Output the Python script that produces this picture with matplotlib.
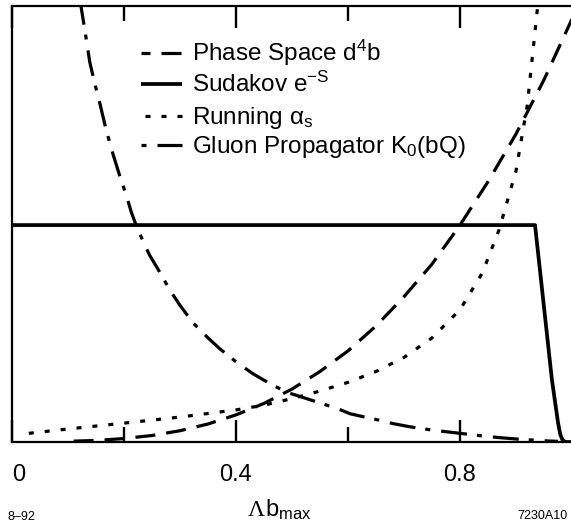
import matplotlib
matplotlib.use("Agg")
import matplotlib.pyplot as plt
from matplotlib.lines import Line2D

plt.rcParams['font.family'] = ['Liberation Sans', 'DejaVu Sans']
plt.rcParams['mathtext.fontset'] = 'custom'
plt.rcParams['mathtext.rm'] = 'Liberation Sans'
plt.rcParams['mathtext.it'] = 'Liberation Sans'
plt.rcParams['mathtext.sf'] = 'Liberation Sans'
plt.rcParams['lines.scale_dashes'] = False

# --- curves (x = Lambda*b_max, y in units of the Sudakov plateau) ---
phase_x = [0.11, 0.15, 0.20, 0.25, 0.30, 0.35, 0.40, 0.45, 0.50, 0.55,
           0.60, 0.65, 0.70, 0.75, 0.80, 0.85, 0.90, 0.95, 1.00]
phase_y = [0.004, 0.007, 0.016, 0.030, 0.052, 0.083, 0.125, 0.178, 0.244, 0.325,
           0.42, 0.535, 0.67, 0.82, 1.00, 1.20, 1.42, 1.67, 1.95]

sudakov_x = [0.0, 0.934, 0.964, 0.975, 0.979, 0.983, 0.988, 1.0]
sudakov_y = [1.0, 1.0, 0.29, 0.09, 0.035, 0.01, 0.0, 0.0]

alphas_x = [0.03, 0.10, 0.20, 0.30, 0.40, 0.45, 0.50, 0.55, 0.60, 0.65,
            0.70, 0.75, 0.80, 0.84, 0.87, 0.90, 0.92, 0.94]
alphas_y = [0.040, 0.060, 0.087, 0.115, 0.148, 0.170, 0.200, 0.235, 0.275, 0.325,
            0.39, 0.48, 0.61, 0.78, 0.98, 1.25, 1.55, 2.04]

gluon_x = [0.12, 0.125, 0.13, 0.139, 0.148, 0.157, 0.168, 0.18, 0.192, 0.205,
           0.213, 0.223, 0.235, 0.246, 0.26, 0.282, 0.30, 0.323, 0.35, 0.371,
           0.40, 0.43, 0.46, 0.49, 0.52, 0.55, 0.58, 0.604, 0.63, 0.657,
           0.68, 0.711, 0.75, 0.80, 0.84, 0.871, 0.91, 0.955, 0.975]
gluon_y = [2.06, 1.98, 1.90, 1.75, 1.65, 1.56, 1.44, 1.33, 1.23, 1.13,
           1.06, 0.99, 0.92, 0.86, 0.80, 0.70, 0.63, 0.55, 0.48, 0.43,
           0.37, 0.315, 0.27, 0.23, 0.205, 0.18, 0.155, 0.13, 0.115, 0.10,
           0.085, 0.07, 0.055, 0.04, 0.028, 0.02, 0.012, 0.005, 0.003]

labels = ["Phase Space d$^{4}$b",
          "Sudakov e$^{\\mathrm{-S}}$",
          "Running $\\alpha_{\\mathrm{s}}$",
          "Gluon Propagator K$_{0}$(bQ)"]

major_ticks = [0.0, 0.4, 0.8]
major_labels = ["0", "0.4", "0.8"]
minor_ticks = [0.2, 0.6]

PT = 0.72  # points per pixel at 100 dpi
dash_main = (20 * PT, 11 * PT)
dot_main = (5 * PT, 11 * PT)
dashdot_main = (26 * PT, 10 * PT, 5 * PT, 11 * PT)

W, H = 571, 531
fig = plt.figure(figsize=(W / 100, H / 100), dpi=100)
ax_left, ax_bottom, ax_right, ax_top = 12, 442, 572, 6
ax_h = ax_bottom - ax_top
ax = fig.add_axes([ax_left / W, (H - ax_bottom) / H,
                   (ax_right - ax_left) / W, ax_h / H])
ax.set_xlim(0, 1.0)
ax.set_ylim(0, 2.01)

lw = 2.3
ax.plot(phase_x, phase_y, color='black', lw=lw, linestyle=(0, dash_main),
        dash_capstyle='butt')
ax.plot(sudakov_x, sudakov_y, color='black', lw=2.7, solid_capstyle='butt',
        solid_joinstyle='round')
ax.plot(alphas_x, alphas_y, color='black', lw=lw, linestyle=(0, dot_main),
        dash_capstyle='butt')
ax.plot(gluon_x, gluon_y, color='black', lw=lw, linestyle=(0, dashdot_main),
        dash_capstyle='butt')

# axes styling
for side in ['left', 'bottom', 'top']:
    ax.spines[side].set_linewidth(1.6)
ax.spines['right'].set_visible(False)
ax.set_yticks([])
ax.set_xticks(major_ticks)
ax.set_xticklabels(major_labels, fontsize=17)
ax.set_xticks(minor_ticks, minor=True)
ax.tick_params(axis='x', which='both', direction='in', width=1.7,
               color='black', pad=16, bottom=True, top=True)
ax.tick_params(axis='x', which='major', length=15.5)
ax.tick_params(axis='x', which='minor', length=10.8)
ax.get_xticklabels()[0].set_horizontalalignment('left')

# key
def fx(px):
    return (px - ax_left) / (ax_right - ax_left)

def fy(py):
    return (ax_bottom - py) / ax_h

rows = [53, 84, 116, 145]
styles = [
    dict(linestyle=(11 * PT, dash_main), lw=lw, dash_capstyle='butt'),
    dict(linestyle='-', lw=2.7, solid_capstyle='butt'),
    dict(linestyle=(12 * PT, dot_main), lw=lw, dash_capstyle='butt'),
    dict(linestyle=(36 * PT, dashdot_main), lw=lw, dash_capstyle='butt'),
]
for row, style, label in zip(rows, styles, labels):
    ax.add_line(Line2D([fx(141), fx(182)], [fy(row), fy(row)], color='black',
                       transform=ax.transAxes, **style))
    ax.text(fx(192), fy(row + 8), label, transform=ax.transAxes, fontsize=17.5,
            va='baseline', ha='left')

# axis title: serif Lambda followed by sans b_max
fig.text(265 / W, (H - 516) / H, "\u039b", fontsize=17, ha='right',
         va='baseline', family='Liberation Serif')
fig.text(265 / W, (H - 516) / H, "b$_{\\mathrm{max}}$", fontsize=17, ha='left',
         va='baseline')

fig.text(7 / W, (H - 517) / H, "8\u201392", fontsize=9, ha='left', va='center')
fig.text(568 / W, (H - 516) / H, "7230A10", fontsize=9, ha='right', va='center')

fig.savefig("out.png", dpi=100)
